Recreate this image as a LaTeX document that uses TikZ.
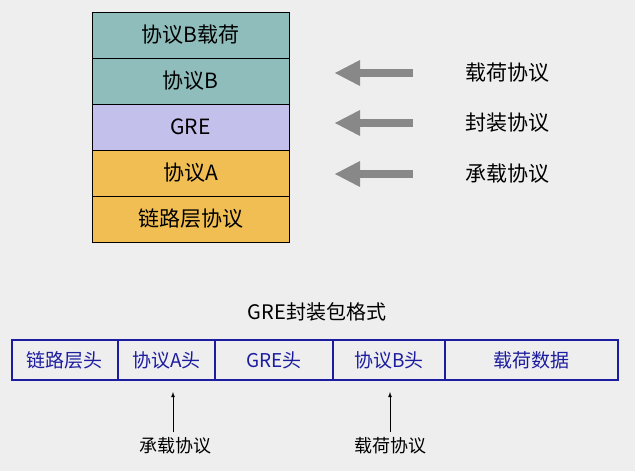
\documentclass[tikz,border=0pt]{standalone}
\usepackage{fontspec}
\setmainfont{Noto Sans CJK SC}
\definecolor{bg}{HTML}{EEEEEE}
\definecolor{teal}{HTML}{8EBDBC}
\definecolor{lav}{HTML}{C3C0EC}
\definecolor{org}{HTML}{F0BE52}
\definecolor{navy}{HTML}{1C1CA0}
\definecolor{agray}{HTML}{888888}
\begin{document}
\begin{tikzpicture}[x=1pt,y=-1pt,
  lay/.style={draw=black,line width=0.8pt,minimum width=197pt,minimum height=46pt,inner sep=0pt,font=\fontsize{21}{21}\selectfont},
  fld/.style={draw=navy,line width=1.5pt,minimum height=40pt,inner sep=0pt,text=navy,font=\fontsize{19}{19}\selectfont},
  lbl/.style={font=\fontsize{21}{21}\selectfont},
  sl/.style={font=\fontsize{18}{18}\selectfont}]
\fill[bg] (0,0) rectangle (635,471);
\useasboundingbox (0,0) rectangle (635,471);
\node[lay,fill=teal] (l1) at (190.5,35) {协议B载荷};
\node[lay,fill=teal] (l2) at (190.5,81) {协议B};
\node[lay,fill=lav] (l3) at (190.5,127) {GRE};
\node[lay,fill=org] (l4) at (190.5,173) {协议A};
\node[lay,fill=org] (l5) at (190.5,219) {链路层协议};
\foreach \i/\y/\t in {1/73/载荷协议,2/123/封装协议,3/174/承载协议}{
  \node[lbl] (r\i) at (507,\y) {\t};
  \fill[agray] (413,\y-4) rectangle (358,\y+4);
  \fill[agray] (335,\y) -- (360,\y-13) -- (360,\y+13) -- cycle;
}
\node[font=\fontsize{20}{20}\selectfont] (title) at (317,312) {GRE封装包格式};
\node[fld,minimum width=106pt] (f1) at (65,360) {链路层头};
\node[fld,minimum width=97pt] (f2) at (166.5,360) {协议A头};
\node[fld,minimum width=118pt] (f3) at (274,360) {GRE头};
\node[fld,minimum width=112pt] (f4) at (389,360) {协议B头};
\node[fld,minimum width=173pt] (f5) at (531.5,360) {载荷数据};
\node[sl] (a1) at (175,446) {承载协议};
\node[sl] (a2) at (390,446) {载荷协议};
\coordinate (t1) at (173,392);
\coordinate (t2) at (390,392);
\draw[-latex,line width=0.8pt] (173,432) -- (t1);
\draw[-latex,line width=0.8pt] (390,432) -- (t2);
\end{tikzpicture}
\end{document}
